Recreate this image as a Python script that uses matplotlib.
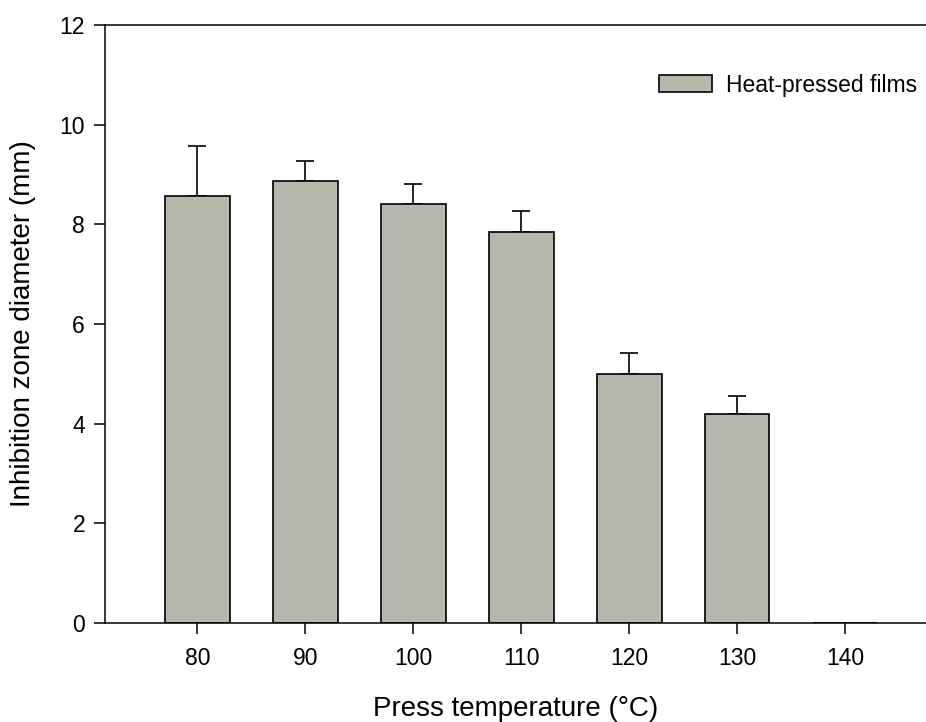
import numpy as np
import matplotlib.pyplot as plt

plt.rcParams['font.family'] = ['Liberation Sans', 'DejaVu Sans']

# data
temps = [80, 90, 100, 110, 120, 130, 140]
zone_mean = [8.56, 8.86, 8.41, 7.85, 5.00, 4.20, 0.0]
zone_err = [1.01, 0.41, 0.39, 0.42, 0.42, 0.36, 0.0]

fig = plt.figure(figsize=(9.26, 7.22), dpi=100)
ax = fig.add_axes([104.5 / 926, 1 - 623 / 722, 1 - 104.5 / 926, (623 - 25) / 722])

ax.bar(temps, zone_mean, width=6, color='#b7b7ab', edgecolor='black',
       linewidth=1.2, label='Heat-pressed films', zorder=2)
# only upper error bars
ax.errorbar(temps[:-1], zone_mean[:-1], yerr=[np.zeros(6), zone_err[:-1]],
            fmt='none', ecolor='black', elinewidth=1.2, capsize=6.5,
            capthick=1.2, zorder=1)

ax.set_xlim(71.4, 147.5)
ax.set_ylim(0, 12)
ax.set_xticks(temps)
ax.set_yticks(np.arange(0, 13, 2))
ax.tick_params(direction='out', length=8, width=1.1, labelsize=16.5, pad=9)
ax.tick_params(axis='y', pad=6)
for s in ['left', 'bottom', 'top']:
    ax.spines[s].set_linewidth(1.1)
ax.spines['right'].set_visible(False)

ax.set_xlabel('Press temperature (°C)', fontsize=20, labelpad=19)
ax.set_ylabel('Inhibition zone diameter (mm)', fontsize=20, labelpad=17)

ax.legend(loc='upper right', frameon=False, fontsize=16.5,
          handlelength=2.3, handleheight=0.8, handletextpad=0.6,
          borderaxespad=0.0, bbox_to_anchor=(1.0, 0.934))

fig.savefig('out.png', dpi=100)
